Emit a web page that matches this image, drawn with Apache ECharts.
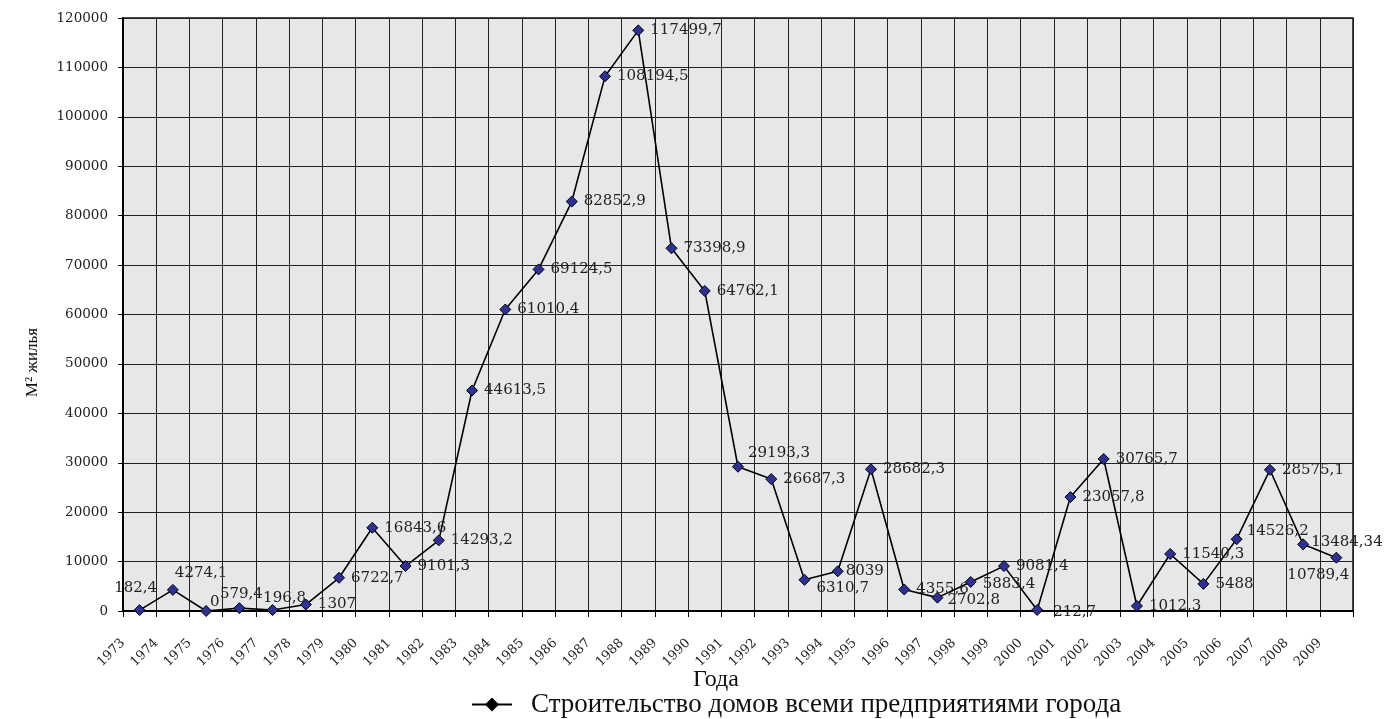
<!DOCTYPE html>
<html>
<head>
<meta charset="utf-8">
<script src="https://cdn.jsdelivr.net/npm/echarts@6/dist/echarts.min.js"></script>
<style>
html, body { margin: 0; padding: 0; background: #fff; }
#myChart { width: 1397px; height: 719px; }
</style>
</head>
<body>
<div id="myChart"></div>
<script>
// годы и объёмы (м2 жилья)
var years = ['1973','1974','1975','1976','1977','1978','1979','1980','1981','1982',
  '1983','1984','1985','1986','1987','1988','1989','1990','1991','1992',
  '1993','1994','1995','1996','1997','1998','1999','2000','2001','2002',
  '2003','2004','2005','2006','2007','2008','2009']
var values = [182.4, 4274.1, 0, 579.4, 196.8, 1307, 6722.7, 16843.6, 9101.3, 14293.2,
  44613.5, 61010.4, 69124.5, 82852.9, 108194.5, 117499.7, 73398.9, 64762.1, 29193.3, 26687.3,
  6310.7, 8039, 28682.3, 4355.6, 2702.8, 5883.4, 9081.4, 212.7, 23057.8, 30765.7,
  1012.3, 11540.3, 5488, 14526.2, 28575.1, 13484.34, 10789.4]
var seriesName = 'Строительство домов всеми предприятиями города'

// положение подписей, где они не справа от точки
var labelPlace = {
  0: { position: 'top', offset: [-4, -2] },
  1: { position: 'right', offset: [-10, -17] },
  2: { position: 'right', offset: [-8, -9] },
  3: { position: 'top', offset: [2, 5] },
  4: { position: 'top', offset: [12, 8] },
  18: { position: 'right', offset: [-2, -14] },
  20: { position: 'right', offset: [0, 8] },
  21: { position: 'right', offset: [-4, 0] },
  24: { position: 'right', offset: [-2, 2] },
  25: { position: 'right', offset: [0, 2] },
  27: { position: 'right', offset: [4, 2] },
  33: { position: 'right', offset: [-2, -8] },
  35: { position: 'right', offset: [-4, -2] },
  36: { position: 'bottom', offset: [-18, -2] }
}

var fmt = function (v) { return String(v).replace('.', ',') }

var points = values.map(function (v, i) {
  var item = { value: [i + 0.5, v] }
  if (labelPlace[i]) item.label = labelPlace[i]
  return item
})

var serif = '"Liberation Serif", "DejaVu Serif", serif'
var numFont = '"DejaVu Serif", serif'
var myChart = echarts.init(document.getElementById('myChart'))
myChart.setOption({
  animation: false,
  textStyle: { fontFamily: serif },
  grid: {
    left: 123, right: 44, top: 18, bottom: 108,
    show: true,
    backgroundColor: '#e6e7e9',
    borderColor: '#111',
    borderWidth: 1.5
  },
  legend: {
    left: 466, top: 686,
    itemWidth: 40, itemHeight: 14, itemGap: 10,
    itemStyle: { color: '#000' },
    textStyle: { fontFamily: serif, fontSize: 27, color: '#111', padding: [0, 0, 0, 14] },
    data: [seriesName]
  },
  xAxis: {
    type: 'value',
    min: 0, max: years.length, interval: 1,
    name: 'Года',
    nameLocation: 'middle',
    nameGap: 57,
    nameMoveOverlap: false,
    nameTextStyle: { fontFamily: serif, fontSize: 24, color: '#111', padding: [0, 44, 0, 0] },
    axisLine: { show: true, lineStyle: { color: '#000', width: 2 } },
    axisTick: { show: true, length: 6, lineStyle: { color: '#000' } },
    axisLabel: {
      rotate: 45, margin: 30, fontSize: 13, color: '#222', fontFamily: numFont,
      formatter: function (v) { return v < years.length ? years[v] : '' }
    },
    splitLine: { show: true, lineStyle: { color: '#222', width: 1 } }
  },
  yAxis: {
    type: 'value',
    min: 0, max: 120000, interval: 10000,
    name: 'М² жилья',
    nameLocation: 'middle',
    nameGap: 82,
    nameTextStyle: { fontFamily: serif, fontSize: 17, color: '#111', padding: [0, 96, 0, 0] },
    axisLine: { show: true, lineStyle: { color: '#000', width: 2 } },
    axisTick: { show: true, length: 5, lineStyle: { color: '#000' } },
    axisLabel: {
      margin: 15, fontSize: 13.5, color: '#222', fontFamily: numFont,
      formatter: function (v) { return String(v) }
    },
    splitLine: { show: true, lineStyle: { color: '#222', width: 1 } }
  },
  series: [{
    name: seriesName,
    type: 'line',
    data: points,
    symbol: 'diamond',
    symbolSize: 11,
    itemStyle: { color: '#2e3192', borderColor: '#000', borderWidth: 1 },
    lineStyle: { color: '#000', width: 1.6 },
    label: {
      show: true,
      position: 'right',
      distance: 6,
      fontSize: 15,
      color: '#222',
      fontFamily: numFont,
      formatter: function (p) { return fmt(p.value[1]) }
    }
  }]
})
</script>
</body>
</html>
